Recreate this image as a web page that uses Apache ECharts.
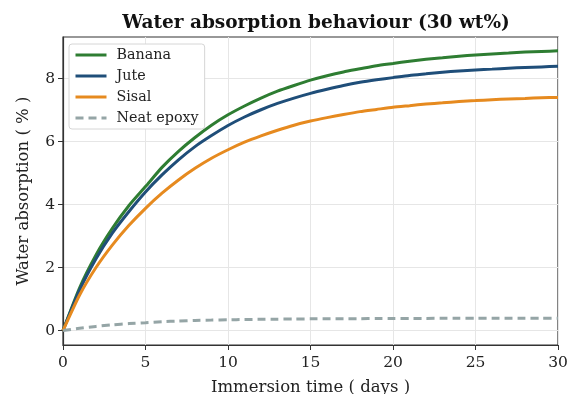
<!DOCTYPE html>
<html>
<head>
<meta charset="utf-8">
<script src="https://cdn.jsdelivr.net/npm/echarts@6/dist/echarts.min.js"></script>
<style>html,body{margin:0;padding:0;background:#fff;overflow:hidden;}#chart{width:576px;height:394px;}</style>
</head>
<body>
<div id="chart"></div>
<script>
const days = [0,1,2,3,4,5,6,7,8,9,10,11,12,13,14,15,16,17,18,19,20,21,22,23,24,25,26,27,28,29,30];
const banana = [0,1.35,2.40,3.25,3.97,4.57,5.18,5.69,6.13,6.52,6.85,7.13,7.38,7.60,7.78,7.95,8.09,8.21,8.31,8.41,8.48,8.55,8.61,8.66,8.71,8.75,8.78,8.81,8.84,8.86,8.88];
const jute = [0,1.28,2.28,3.10,3.78,4.40,4.94,5.42,5.84,6.19,6.51,6.78,7.01,7.21,7.38,7.53,7.66,7.78,7.88,7.96,8.03,8.10,8.15,8.20,8.24,8.27,8.30,8.33,8.35,8.37,8.39];
const sisal = [0,1.12,2.00,2.72,3.34,3.88,4.36,4.78,5.15,5.47,5.74,5.98,6.18,6.36,6.52,6.65,6.76,6.86,6.95,7.02,7.09,7.14,7.19,7.23,7.27,7.30,7.33,7.35,7.37,7.39,7.40];
const epoxy = [0,0.07,0.13,0.18,0.22,0.25,0.28,0.30,0.32,0.33,0.34,0.35,0.355,0.36,0.365,0.37,0.372,0.375,0.377,0.38,0.382,0.384,0.385,0.386,0.387,0.388,0.389,0.39,0.39,0.39,0.39];
const yTicks = [0,2,4,6,8];
const seriesNames = ['Banana','Jute','Sisal','Neat epoxy'];

const font = 'DejaVu Serif';
function pairs(arr){ return days.map((d,i)=>[d,arr[i]]); }
function mk(name, data, color, dashed){
  return {
    name: name, type: 'line', data: pairs(data), showSymbol: false, symbol: 'none',
    smooth: 0.2,
    lineStyle: {color: color, width: 3, type: dashed ? [8,5] : 'solid'},
    itemStyle: {color: color}
  };
}
const chart = echarts.init(document.getElementById('chart'), null, {renderer:'canvas', width: 576, height: 394});
chart.setOption({
  animation: false,
  backgroundColor: '#fff',
  title: {
    text: 'Water absorption behaviour (30 wt%)',
    left: 311, top: 9, textAlign: 'center',
    textStyle: {fontFamily: font, fontWeight: 'bold', fontSize: 18.5, color: '#111'}
  },
  grid: {left: 63, width: 495, top: 37, height: 308, outerBoundsMode: 'none', containLabel: false,
         show: true, borderColor: '#333', borderWidth: 1.2, backgroundColor: 'transparent'},
  legend: {
    orient: 'vertical', left: 69, top: 44,
    data: seriesNames,
    itemWidth: 31, itemHeight: 14, itemGap: 7,
    itemStyle: {color: 'rgba(0,0,0,0)', opacity: 0, borderWidth: 0},
    lineStyle: {width: 3},
    backgroundColor: '#fff', borderColor: '#d6d6d6', borderWidth: 1, borderRadius: 3,
    padding: [4, 6, 4, 5],
    textStyle: {fontFamily: font, fontSize: 14.3, color: '#222', padding: [0, 0, 0, 5]}
  },
  xAxis: {
    type: 'value', min: 0, max: 30, interval: 5,
    name: 'Immersion time ( days )', nameLocation: 'middle', nameGap: 34,
    nameTextStyle: {fontFamily: font, fontSize: 16.5, color: '#222'},
    axisLine: {show: true, onZero: false, lineStyle: {color: '#333', width: 1.2}},
    axisTick: {show: true, length: 5, lineStyle: {color: '#333'}},
    axisLabel: {fontFamily: font, fontSize: 15.5, color: '#222', margin: 10},
    splitLine: {show: true, lineStyle: {color: '#e6e6e6', width: 1}}
  },
  yAxis: {
    type: 'value', min: -0.46, max: 9.32,
    name: 'Water absorption ( % )', nameLocation: 'middle', nameGap: 31, nameRotate: 90,
    nameTextStyle: {fontFamily: font, fontSize: 16.5, color: '#222'},
    axisLine: {show: true, onZero: false, lineStyle: {color: '#333', width: 1.2}},
    axisTick: {show: true, length: 5, lineStyle: {color: '#333'}, customValues: yTicks},
    axisLabel: {fontFamily: font, fontSize: 15.5, color: '#222', margin: 8, customValues: yTicks},
    splitLine: {show: true, lineStyle: {color: '#e6e6e6', width: 1}}
  },
  series: [
    mk(seriesNames[0], banana, '#2e7d32', false),
    mk(seriesNames[1], jute, '#1f4e79', false),
    mk(seriesNames[2], sisal, '#e68a1f', false),
    mk(seriesNames[3], epoxy, '#95a5a6', true)
  ]
});
</script>
</body>
</html>
